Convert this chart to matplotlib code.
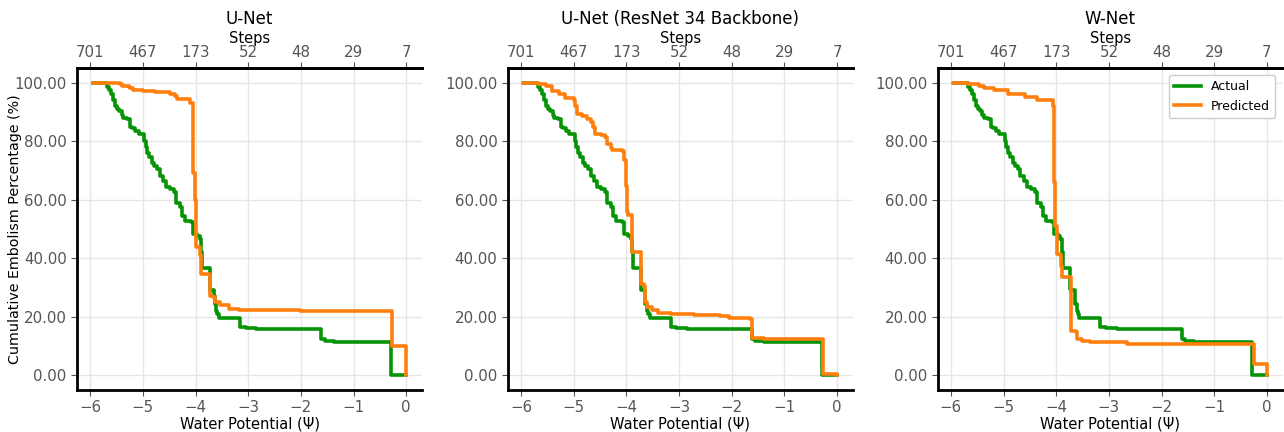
import numpy as np
import matplotlib
matplotlib.use('Agg')
import matplotlib.pyplot as plt

# water potential (psi) where the cumulative embolism value changes, value after the change
actual_psi = [-5.95, -5.68, -5.64, -5.60, -5.56, -5.52, -5.49, -5.45, -5.40, -5.37,
              -5.30, -5.24, -5.20, -5.15, -5.08, -4.97, -4.95, -4.92, -4.88, -4.83,
              -4.78, -4.73, -4.68, -4.61, -4.56, -4.48, -4.41, -4.37, -4.29, -4.26,
              -4.20, -4.08, -4.05, -3.97, -3.92, -3.89, -3.88, -3.73, -3.72, -3.65,
              -3.64, -3.61, -3.59, -3.56, -3.16, -3.05, -2.85, -2.65, -1.62, -1.55,
              -1.38, -0.29, 0.0]
actual_pct = [100.0, 98.5, 97.5, 96.0, 94.0, 92.0, 91.0, 90.3, 89.0, 88.0,
              87.5, 85.0, 84.5, 83.5, 82.4, 80.0, 78.0, 76.0, 74.5, 72.7,
              71.5, 70.5, 68.2, 66.5, 64.2, 63.6, 62.5, 59.0, 57.4, 54.5,
              52.8, 52.3, 48.3, 47.7, 46.6, 42.0, 36.6, 29.5, 29.3, 27.0,
              24.4, 22.0, 21.0, 19.5, 16.5, 16.1, 15.9, 15.7, 12.3, 11.8,
              11.4, 0.0, 0.0]

unet_psi = [-5.95, -5.43, -5.40, -5.27, -5.24, -5.18, -4.99, -4.77, -4.48, -4.39,
            -4.35, -4.10, -4.05, -4.04, -4.02, -4.00, -3.99, -3.97, -3.91, -3.90,
            -3.89, -3.72, -3.66, -3.63, -3.53, -3.37, -3.18, -3.15, -2.01, -0.27,
            0.0]
unet_pct = [100.0, 99.7, 98.9, 98.5, 98.0, 97.5, 97.2, 96.8, 96.0, 95.5,
            94.5, 93.2, 77.0, 69.0, 60.0, 50.0, 43.8, 43.8, 41.0, 38.0,
            34.7, 27.0, 26.7, 25.0, 23.9, 22.7, 22.5, 22.2, 22.0, 10.0,
            0.0]

resnet_psi = [-5.96, -5.68, -5.53, -5.41, -5.28, -5.16, -4.99, -4.97, -4.94, -4.84,
              -4.75, -4.68, -4.63, -4.59, -4.49, -4.40, -4.37, -4.30, -4.27, -4.08,
              -4.05, -4.01, -3.99, -3.96, -3.89, -3.73, -3.72, -3.66, -3.65, -3.61,
              -3.51, -3.39, -3.16, -2.72, -2.22, -2.06, -1.65, -1.61, -1.39, -0.27,
              0.0]
resnet_pct = [100.0, 99.4, 99.0, 97.2, 96.0, 94.9, 94.0, 92.0, 89.2, 88.6,
              87.5, 86.4, 84.7, 82.4, 82.0, 81.3, 79.0, 77.8, 76.9, 76.7,
              73.6, 64.8, 55.7, 54.8, 42.0, 41.1, 31.3, 30.7, 25.0, 23.3,
              22.2, 21.4, 21.0, 20.5, 20.2, 19.5, 19.3, 12.7, 12.3, 0.6,
              0.0]

wnet_psi = [-5.96, -5.68, -5.47, -5.37, -5.18, -4.92, -4.59, -4.37, -4.06, -4.05,
            -4.02, -3.99, -3.92, -3.90, -3.89, -3.72, -3.63, -3.61, -3.51, -3.35,
            -2.65, -1.63, -0.24, 0.0]
wnet_pct = [100.0, 99.4, 98.9, 98.3, 97.5, 96.0, 95.2, 94.1, 92.0, 65.9,
            51.1, 41.5, 41.0, 37.5, 33.5, 15.0, 14.8, 12.5, 11.9, 11.4,
            10.8, 10.6, 4.0, 0.0]

titles = ['U-Net', 'U-Net (ResNet 34 Backbone)', 'W-Net']
predictions = [(unet_psi, unet_pct), (resnet_psi, resnet_pct), (wnet_psi, wnet_pct)]

psi_ticks = [-6, -5, -4, -3, -2, -1, 0]
step_labels = ['701', '467', '173', '52', '48', '29', '7']

fig = plt.figure(figsize=(12.84, 4.32), dpi=100)
lefts = [0.060, 0.3955, 0.7303]
width = 0.2687

for i, (title, (p_psi, p_pct)) in enumerate(zip(titles, predictions)):
    ax = fig.add_axes([lefts[i], 0.0972, width, 0.7454])
    ax.step(actual_psi, actual_pct, where='post', color='#059405', lw=2.6, label='Actual')
    ax.step(p_psi, p_pct, where='post', color='#ff7f0e', lw=2.6, label='Predicted')
    ax.set_xlim(-6.25, 0.3)
    ax.set_ylim(-5, 105)
    ax.set_xticks(psi_ticks)
    ax.set_yticks([0, 20, 40, 60, 80, 100])
    ax.yaxis.set_major_formatter(matplotlib.ticker.FormatStrFormatter('%.2f'))
    ax.grid(color='#e6e6e6', lw=1)
    ax.set_axisbelow(True)
    ax.tick_params(colors='#555555', labelsize=10.8, length=4, labelcolor='#555555')
    ax.set_xlabel('Water Potential (\u03a8)', fontsize=10.5, labelpad=1)
    if i == 0:
        ax.set_ylabel('Cumulative Embolism Percentage (%)', fontsize=10.3)
        ax.yaxis.set_label_coords(-0.16, 0.5)
    for side in ['left', 'bottom', 'top']:
        ax.spines[side].set_color('black')
        ax.spines[side].set_linewidth(2)
    ax.spines['right'].set_visible(False)

    top = ax.twiny()
    top.set_xlim(ax.get_xlim())
    top.set_xticks(psi_ticks)
    top.set_xticklabels(step_labels)
    top.tick_params(colors='#555555', labelsize=10.8, length=4, pad=2)
    top.set_xlabel('Steps', fontsize=10.5, labelpad=1)
    top.spines['top'].set_color('black')
    top.spines['top'].set_linewidth(2)
    for side in ['left', 'bottom', 'right']:
        top.spines[side].set_visible(False)
    top.set_title(title, fontsize=12, pad=5)

    if i == 2:
        ax.legend(loc='upper right', fontsize=9, framealpha=1, edgecolor='#cccccc',
                  fancybox=True, handlelength=2.2, borderaxespad=0.6)

fig.savefig('out.png', dpi=100)
